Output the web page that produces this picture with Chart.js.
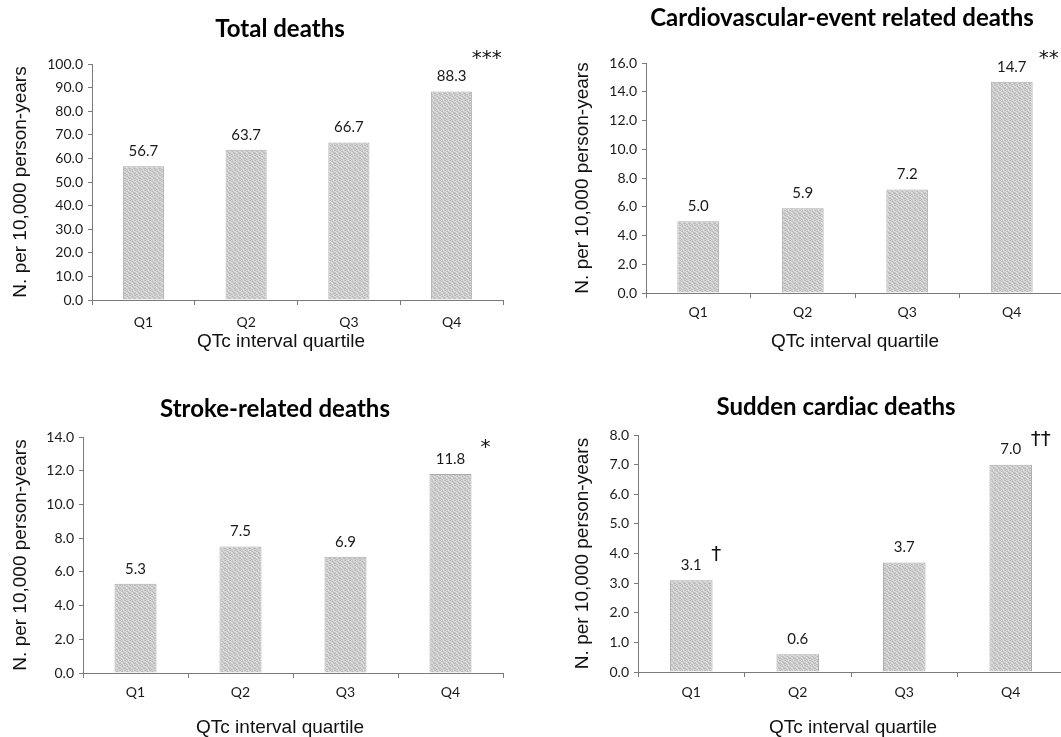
<!DOCTYPE html>
<html>
<head>
<meta charset="utf-8">
<script src="https://cdn.jsdelivr.net/npm/chart.js@4.4.0/dist/chart.umd.min.js"></script>
<style>
html, body { margin: 0; padding: 0; background: #fff; overflow: hidden; width: 1061px; height: 737px; }
canvas { position: absolute; }
</style>
</head>
<body>
<canvas id="c1" width="560" height="357" style="left:0px;top:0px"></canvas>
<canvas id="c2" width="624" height="357" style="left:530px;top:0px"></canvas>
<canvas id="c3" width="550" height="363" style="left:0px;top:380px"></canvas>
<canvas id="c4" width="612" height="363" style="left:530px;top:380px"></canvas>
<script>
const quartiles = ['Q1', 'Q2', 'Q3', 'Q4'];

const totalDeaths = [56.7, 63.7, 66.7, 88.3];
const cvDeaths = [5.0, 5.9, 7.2, 14.7];
const strokeDeaths = [5.3, 7.5, 6.9, 11.8];
const suddenDeaths = [3.1, 0.6, 3.7, 7.0];

const totalSig = ['', '', '', '***'];
const cvSig = ['', '', '', '**'];
const strokeSig = ['', '', '', '*'];
const suddenSig = ['\u2020', '', '', '\u2020\u2020'];

const yLabel = 'N. per 10,000 person-years';
const xLabel = 'QTc interval quartile';

// grey stippled fill like the scanned bars
function stipple() {
    const c = document.createElement('canvas');
    c.width = 5; c.height = 5;
    const g = c.getContext('2d');
    const shades = ['#b6b6b6', '#d8d8d8', '#cacaca', '#e0e0e0', '#c0c0c0',
                    '#dcdcdc', '#c4c4c4', '#b8b8b8', '#d0d0d0', '#dadada',
                    '#c8c8c8', '#e2e2e2', '#d4d4d4', '#bcbcbc', '#cccccc',
                    '#bebebe', '#d2d2d2', '#dedede', '#c6c6c6', '#b4b4b4',
                    '#d6d6d6', '#bababa', '#c2c2c2', '#d8d8d8', '#cecece'];
    for (let i = 0; i < 25; i++) {
        g.fillStyle = shades[i];
        g.fillRect(i % 5, Math.floor(i / 5), 1, 1);
    }
    return g.createPattern(c, 'repeat');
}

// panel title, x title, value labels and significance marks
const barLabels = {
    id: 'barLabels',
    afterDatasetsDraw(chart, args, opts) {
        const ctx = chart.ctx;
        const meta = chart.getDatasetMeta(0);
        const values = chart.data.datasets[0].data;
        ctx.save();
        ctx.textAlign = 'center';
        ctx.textBaseline = 'middle';
        ctx.fillStyle = '#000';
        ctx.font = 'bold 24px Lato';
        ctx.fillText(opts.title, opts.titleX, opts.titleY);
        ctx.fillStyle = '#111';
        ctx.font = '19px "Liberation Sans"';
        ctx.fillText(xLabel, opts.xTitleX, opts.xTitleY);
        meta.data.forEach(function(bar, i) {
            ctx.fillStyle = '#1a1a1a';
            ctx.font = '15px Lato';
            ctx.textAlign = 'center';
            ctx.textBaseline = 'middle';
            ctx.fillText(values[i].toFixed(1), bar.x, bar.y - 15);
            if (opts.marks[i]) {
                ctx.fillStyle = '#111';
                ctx.font = '20px "DejaVu Sans"';
                ctx.textAlign = 'left';
                ctx.textBaseline = 'alphabetic';
                ctx.fillText(opts.marks[i], bar.x + opts.dx, bar.y - opts.dy);
            }
        });
        ctx.restore();
    }
};

function drawPanel(canvas, title, values, marks, params) {
    const ctx = document.getElementById(canvas).getContext('2d');
    const axisColor = '#7a7a7a';

    return new Chart(ctx, {
        type: 'bar',
        data: {
            labels: quartiles,
            datasets: [{
                data: values,
                backgroundColor: stipple(),
                borderColor: '#ababab',
                borderWidth: 1,
                barPercentage: 0.4,
                categoryPercentage: 1.0
            }]
        },
        options: {
            responsive: false,
            animation: false,
            layout: { padding: { left: 0, right: params.right, top: params.top, bottom: 0 } },
            scales: {
                y: {
                    min: 0,
                    max: params.max,
                    afterFit: function(scale) { scale.width = params.yWidth; },
                    ticks: {
                        stepSize: params.step,
                        padding: 5,
                        color: '#1a1a1a',
                        font: { family: 'Lato', size: 14 },
                        callback: function(value) { return value.toFixed(1); }
                    },
                    grid: { drawOnChartArea: false, tickLength: 4, color: axisColor },
                    border: { color: axisColor, dash: [1, 1] },
                    title: {
                        display: true,
                        text: yLabel,
                        color: '#111',
                        font: { family: 'Liberation Sans', size: 19 },
                        padding: { top: params.yTitlePad, bottom: 0 }
                    }
                },
                x: {
                    afterFit: function(scale) { scale.height = params.xHeight; },
                    ticks: {
                        padding: params.tickPad,
                        color: '#1a1a1a',
                        font: { family: 'Lato', size: 14 }
                    },
                    grid: { offset: true, drawOnChartArea: false, tickLength: 5, color: axisColor },
                    border: { color: axisColor, dash: [1, 1] },
                    title: { display: false }
                }
            },
            plugins: {
                legend: { display: false },
                tooltip: { enabled: false },
                title: { display: false },
                barLabels: {
                    title: title, titleX: params.titleX, titleY: params.titleY,
                    xTitleX: params.xTitleX, xTitleY: params.xTitleY,
                    marks: marks, dx: params.markDx, dy: params.markDy
                }
            }
        },
        plugins: [barLabels]
    });
}

drawPanel('c1', 'Total deaths', totalDeaths, totalSig,
    { max: 100, step: 10, yWidth: 92, right: 57, top: 64, xHeight: 57, tickPad: 9,
      yTitlePad: 9, titleX: 280, titleY: 29, xTitleX: 281, xTitleY: 342,
      markDx: 20, markDy: 28 });
drawPanel('c2', 'Cardiovascular-event related deaths', cvDeaths, cvSig,
    { max: 16, step: 2, yWidth: 116, right: 90, top: 63, xHeight: 64, tickPad: 6,
      yTitlePad: 41, titleX: 312, titleY: 18, xTitleX: 325, xTitleY: 342,
      markDx: 27, markDy: 18 });
drawPanel('c3', 'Stroke-related deaths', strokeDeaths, strokeSig,
    { max: 14, step: 2, yWidth: 83, right: 47, top: 57, xHeight: 70, tickPad: 6,
      yTitlePad: 9, titleX: 275, titleY: 29, xTitleX: 280, xTitleY: 348,
      markDx: 30, markDy: 21 });
drawPanel('c4', 'Sudden cardiac deaths', suddenDeaths, suddenSig,
    { max: 8, step: 1, yWidth: 108, right: 78, top: 55, xHeight: 71, tickPad: 7,
      yTitlePad: 41, titleX: 306, titleY: 27, xTitleX: 323, xTitleY: 348,
      markDx: 20, markDy: 20 });
</script>
</body>
</html>
